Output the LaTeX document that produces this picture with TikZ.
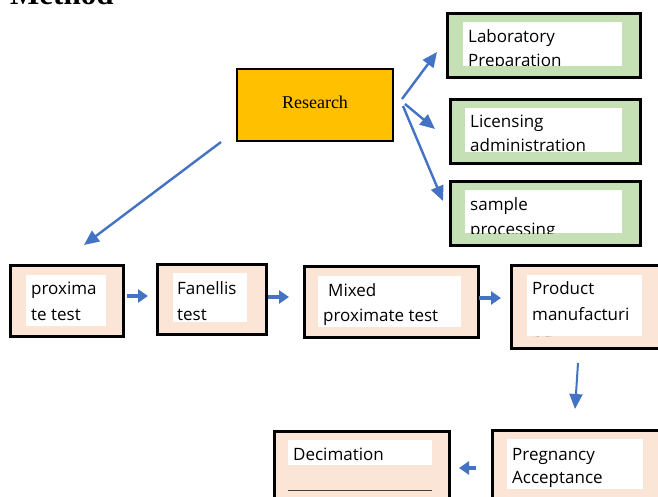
\documentclass[tikz,border=0pt]{standalone}
\usepackage{fontspec}
\setmainfont{Liberation Serif}
\newfontfamily\boxfont{Open Sans}
\usetikzlibrary{arrows.meta}
\definecolor{boxgreen}{HTML}{C5E0B4}
\definecolor{boxpeach}{HTML}{FBE5D6}
\definecolor{boxorange}{HTML}{FFC000}
\definecolor{arrblue}{HTML}{4472C4}
\tikzset{
  outerbox/.style={draw=black, line width=2.6pt, inner sep=0pt, anchor=north west},
  greenbox/.style={outerbox, fill=boxgreen},
  peachbox/.style={outerbox, fill=boxpeach},
  innerwhite/.style={fill=white, draw=none, inner sep=0pt, anchor=north west},
  boxtext/.style={anchor=base west, inner sep=0pt, font=\boxfont\fontsize{17}{20}\selectfont},
  longarr/.style={draw=arrblue, line width=2.4pt, -{Triangle[length=15pt,width=13pt]}},
  shortarr/.style={draw=arrblue, line width=3.2pt, -{Triangle[length=10pt,width=13pt]}},
}
\begin{document}
\begin{tikzpicture}[x=1pt,y=-1pt]
\clip (0,0) rectangle (658,497);
\fill[white] (0,0) rectangle (658,497);

% title (cut off at the top)
\node[anchor=base west, inner sep=0pt, font=\bfseries\fontsize{31}{34}\selectfont] (title) at (10,5) {Method};

% Research
\node[draw=black, line width=2pt, fill=boxorange, minimum width=156pt, minimum height=72pt, inner sep=0pt, anchor=north west,
      text depth=5pt, font=\fontsize{18}{20}\selectfont] (research) at (236,68) {Research};

% green boxes
\node[greenbox, minimum width=193pt, minimum height=64pt] (lab) at (446,12) {};
\node[innerwhite, minimum width=159pt, minimum height=44pt] (labw) at (463,22) {};
\begin{scope}
\clip (463,22) rectangle (622,66);
\node[boxtext] (labt1) at (468,43) {Laboratory};
\node[boxtext] (labt2) at (468,67) {Preparation};
\end{scope}

\node[greenbox, minimum width=190pt, minimum height=64pt] (lic) at (449,98) {};
\node[innerwhite, minimum width=157pt, minimum height=44pt] (licw) at (465,108) {};
\begin{scope}
\clip (465,108) rectangle (622,152);
\node[boxtext] (lict1) at (470,128) {Licensing};
\node[boxtext] (lict2) at (470,152) {administration};
\end{scope}

\node[greenbox, minimum width=190pt, minimum height=64pt] (samp) at (449,180) {};
\node[innerwhite, minimum width=157pt, minimum height=43pt] (sampw) at (465,190) {};
\begin{scope}
\clip (465,190) rectangle (622,233);
\node[boxtext] (sampt1) at (470,211) {sample};
\node[boxtext] (sampt2) at (470,235) {processing};
\end{scope}

% arrows from Research
\coordinate (r1) at (402,99);
\coordinate (r2) at (405,104);
\coordinate (r3) at (403,106);
\coordinate (r4) at (221,142);
\coordinate (t1) at (437,52);
\coordinate (t2) at (435,129);
\coordinate (t3) at (443,201);
\coordinate (t4) at (84,245);
\draw[longarr] (r1) -- (t1);
\draw[longarr] (r2) -- (t2);
\draw[longarr] (r3) -- (t3);
\draw[longarr] (r4) -- (t4);

% bottom row
\node[peachbox, minimum width=113pt, minimum height=71pt] (prox) at (9,264) {};
\node[innerwhite, minimum width=80pt, minimum height=51pt] (proxw) at (26,275) {};
\node[boxtext] (proxt1) at (31,294) {proxima};
\node[boxtext] (proxt2) at (31,320) {te test};

\node[peachbox, minimum width=109pt, minimum height=70pt] (fan) at (156,263) {};
\node[innerwhite, minimum width=74pt, minimum height=49pt] (fanw) at (173,273) {};
\node[boxtext] (fant1) at (177,294) {Fanellis};
\node[boxtext] (fant2) at (177,320) {test};

\node[peachbox, minimum width=174pt, minimum height=71pt] (mix) at (303,265) {};
\node[innerwhite, minimum width=143pt, minimum height=51pt] (mixw) at (318,276) {};
\node[boxtext] (mixt1) at (328,296) {Mixed};
\node[boxtext] (mixt2) at (323,321) {proximate test};

\node[peachbox, minimum width=160pt, minimum height=83pt] (prod) at (510,264) {};
\node[innerwhite, minimum width=115pt, minimum height=61pt] (prodw) at (527,275) {};
\begin{scope}
\clip (527,275) rectangle (642,336);
\node[boxtext] (prodt1) at (532,294) {Product};
\node[boxtext] (prodt2) at (532,320) {manufacturi};
\node[boxtext] (prodt3) at (532,346) {ng};
\end{scope}

\node[peachbox, minimum width=180pt, minimum height=100pt] (preg) at (491,429) {};
\node[innerwhite, minimum width=136pt, minimum height=50pt] (pregw) at (507,439) {};
\node[boxtext] (pregt1) at (512,460) {Pregnancy};
\node[boxtext] (pregt2) at (512,483) {Acceptance};

\node[peachbox, minimum width=175pt, minimum height=100pt] (dec) at (273,430) {};
\node[innerwhite, minimum width=144pt, minimum height=25pt] (decw) at (288,440) {};
\node[boxtext] (dect1) at (293,460) {Decimation};
\coordinate (dl1) at (288,490);
\coordinate (dl2) at (432,490);
\draw[draw=black!75, line width=0.9pt] (dl1) -- (dl2);

% short arrows
\coordinate (b1s) at (127,296); \coordinate (b1e) at (148,296);
\coordinate (b2s) at (268,297); \coordinate (b2e) at (289,297);
\coordinate (b3s) at (479,298); \coordinate (b3e) at (501,298);
\coordinate (b4s) at (578,363); \coordinate (b4e) at (575,409);
\coordinate (b5s) at (476,468); \coordinate (b5e) at (459,468);
\draw[shortarr] (b1s) -- (b1e);
\draw[shortarr] (b2s) -- (b2e);
\draw[shortarr] (b3s) -- (b3e);
\draw[longarr, line width=2pt] (b4s) -- (b4e);
\draw[shortarr] (b5s) -- (b5e);
\end{tikzpicture}
\end{document}
